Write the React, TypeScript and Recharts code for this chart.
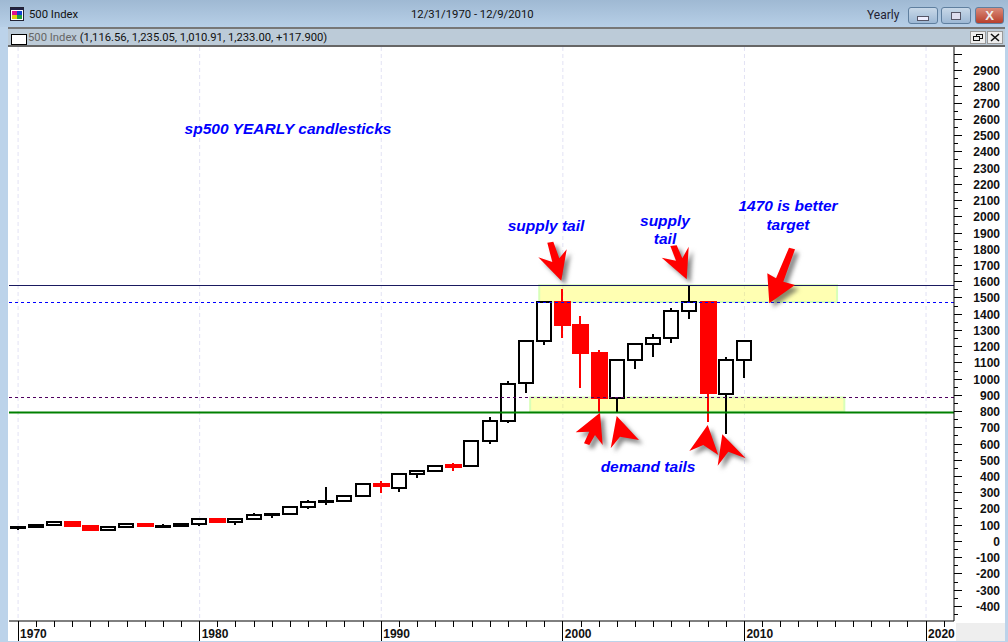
import {
  ComposedChart,
  Bar,
  XAxis,
  YAxis,
  CartesianGrid,
  ReferenceLine,
  ReferenceArea,
} from 'recharts';

const years = [
  1970, 1971, 1972, 1973, 1974, 1975, 1976, 1977, 1978, 1979,
  1980, 1981, 1982, 1983, 1984, 1985, 1986, 1987, 1988, 1989,
  1990, 1991, 1992, 1993, 1994, 1995, 1996, 1997, 1998, 1999,
  2000, 2001, 2002, 2003, 2004, 2005, 2006, 2007, 2008, 2009, 2010,
];
const opens = [
  92, 92, 102, 119, 97, 69, 90, 107, 95, 96,
  108, 136, 122, 141, 165, 167, 211, 242, 247, 278,
  353, 330, 417, 436, 470, 464, 616, 741, 975, 1234,
  1476, 1331, 1158, 885, 1117, 1215, 1252, 1421, 1474, 907, 1117,
];
const highs = [
  94, 105, 120, 120, 100, 96, 108, 108, 107, 111,
  142, 138, 143, 173, 171, 212, 254, 337, 283, 360,
  372, 418, 442, 471, 482, 622, 766, 988, 1239, 1476,
  1554, 1388, 1178, 1117, 1217, 1277, 1437, 1578, 1474, 1135, 1235,
];
const lows = [
  69, 90, 101, 92, 62, 68, 90, 90, 87, 96,
  98, 112, 102, 138, 147, 163, 203, 223, 243, 275,
  298, 306, 392, 429, 435, 458, 600, 731, 914, 1209,
  1254, 944, 800, 797, 1061, 1137, 1221, 1369, 737, 665, 1008,
];
const closes = [
  92, 102, 118, 98, 69, 90, 107, 95, 96, 108,
  136, 122, 141, 165, 167, 211, 242, 247, 278, 353,
  341, 417, 436, 466, 460, 616, 741, 970, 1236, 1476,
  1331, 1158, 885, 1117, 1215, 1252, 1421, 1474, 912, 1117, 1234,
];

const candleData = years.map((year, i) => ({
  year,
  open: opens[i],
  high: highs[i],
  low: lows[i],
  close: closes[i],
}));

const xTicks = Array.from({ length: 52 }, (_, i) => 1970 + i);
const decades = [1970, 1980, 1990, 2000, 2010, 2020];
const yTicks = Array.from({ length: 70 }, (_, i) => -450 + i * 50);

const RED = '#ff0000';

function Candle({ x, y, width, height, payload }: any) {
  const { open, high, low, close } = payload;
  const top = Math.min(y, y + height);
  const h = Math.abs(height);
  const yOf = (v: number) => Math.round(top + ((high - v) / (high - low)) * h);
  const up = close >= open;
  // the candles sit about a pixel left of the year gridline
  const cx = Math.round(x + width / 2) - 1;
  const bodyTop = yOf(Math.max(open, close));
  const bodyBottom = yOf(Math.min(open, close));
  const color = up ? '#000' : RED;
  return (
    <g>
      <line x1={cx} x2={cx} y1={Math.round(top)} y2={Math.round(top + h)} stroke={color} strokeWidth={2} />
      <rect
        x={cx - 7}
        y={bodyTop}
        width={up ? 14 : 15}
        height={Math.max(bodyBottom - bodyTop, 1)}
        fill={up ? '#fff' : RED}
        stroke={color}
        strokeWidth={2}
      />
    </g>
  );
}

function YearTick({ x, y, payload }: any) {
  const isDecade = payload.value % 10 === 0;
  return (
    <g>
      <line x1={x} x2={x} y1={y} y2={y + (isDecade ? 20 : 6)} stroke="#000" shapeRendering="crispEdges" />
      {isDecade && (
        <text x={x + 2} y={y + 17} fontFamily="Liberation Sans" fontWeight="bold" fontSize={12} fill="#111">
          {payload.value}
        </text>
      )}
    </g>
  );
}

function PriceTick({ x, y, payload }: any) {
  const isMajor = payload.value % 100 === 0;
  const showLabel = isMajor && payload.value <= 2900 && payload.value >= -400;
  return (
    <g>
      <line x1={x} x2={x + (isMajor ? 8 : 4)} y1={y} y2={y} stroke="#000" shapeRendering="crispEdges" />
      {showLabel && (
        <text x={1000} y={y + 4.5} textAnchor="end" fontFamily="Liberation Sans" fontWeight="bold" fontSize={12} fill="#111">
          {payload.value}
        </text>
      )}
    </g>
  );
}

const arrows = [
  '561.3,280.7 538.3,257.3 552.3,262 547.3,242.7 553.3,241.7 559.3,258.3 566.7,249.3',
  '686.7,279.3 661.7,257.7 676,260.7 670.3,246 676.7,245.3 682.3,258.3 688.7,246.7',
  '769.3,303.3 767.3,273.3 776,278.3 789,247.7 795,249.3 783.3,281.7 795,285',
  '600,412.7 575.7,432.3 589.3,431.7 584,443.3 589.3,445 595,435 602.7,445',
  '616.7,416 639,440 620,436.7 610.7,448.3',
  '707.7,425 689.3,451 703.3,445 718.3,455',
  '722.3,434.3 745.7,458.3 728.3,451.7 717.7,465.7',
];

const notes = [
  { text: 'sp500 YEARLY candlesticks', cx: 288, y: 120 },
  { text: 'supply tail', cx: 546, y: 217 },
  { text: 'supply', cx: 665, y: 212 },
  { text: 'tail', cx: 665, y: 230 },
  { text: '1470 is better', cx: 788, y: 197 },
  { text: 'target', cx: 788, y: 216 },
  { text: 'demand tails', cx: 648, y: 458 },
];

const chromeFont = 'Roboto, sans-serif';

function WinButton({ left, width, bg, children }: any) {
  return (
    <div
      style={{
        position: 'absolute', left, top: 7, width, height: 17, borderRadius: 3,
        border: '1px solid #5f7f9f', background: bg, boxSizing: 'border-box',
        display: 'flex', alignItems: 'center', justifyContent: 'center',
      }}
    >
      {children}
    </div>
  );
}

export default function App() {
  return (
    <div style={{ position: 'relative', width: 1008, height: 642, overflow: 'hidden', background: '#bcd3ea' }}>
      <style>{`body{margin:0}`}</style>

      {/* window title bar */}
      <div style={{ position: 'absolute', left: 0, top: 0, width: 1008, height: 27, background: 'linear-gradient(#9fb9d3,#b7cfe7)' }} />
      <svg style={{ position: 'absolute', left: 10, top: 7 }} width={14} height={14}>
        <rect x={0.5} y={0.5} width={13} height={13} fill="#fff" stroke="#223" />
        <rect x={1} y={1} width={12} height={2} fill="#224" />
        <rect x={2} y={4} width={5} height={4} fill="#e0108c" />
        <rect x={7} y={4} width={5} height={4} fill="#1040d0" />
        <rect x={2} y={8} width={5} height={4} fill="#e0d010" />
        <rect x={7} y={8} width={5} height={4} fill="#20a040" />
      </svg>
      <div style={{ position: 'absolute', left: 29, top: 8, font: `11.3px ${chromeFont}`, color: '#111' }}>500 Index</div>
      <div style={{ position: 'absolute', left: 411, top: 8, font: `11.3px ${chromeFont}`, color: '#111' }}>12/31/1970 - 12/9/2010</div>
      <div style={{ position: 'absolute', left: 867, top: 8, font: `12px ${chromeFont}`, color: '#223' }}>Yearly</div>
      <WinButton left={908} width={30} bg="linear-gradient(#c8d8e8,#9db8d4)">
        <div style={{ width: 10, height: 3, marginTop: 5, background: '#eef', border: '1px solid #556' }} />
      </WinButton>
      <WinButton left={941} width={30} bg="linear-gradient(#c8d8e8,#9db8d4)">
        <div style={{ width: 8, height: 6, background: '#dde', border: '1px solid #556' }} />
      </WinButton>
      <WinButton left={975} width={29} bg="linear-gradient(#d98a7a,#b8402c)">
        <span style={{ font: 'bold 13px "Liberation Sans"', color: '#eee' }}>X</span>
      </WinButton>

      {/* inner chart header */}
      <div style={{ position: 'absolute', left: 8, top: 27, width: 997, height: 20, boxSizing: 'border-box', background: '#bccbd8', borderTop: '2px solid #777', borderBottom: '2px solid #666' }} />
      <div style={{ position: 'absolute', left: 11, top: 34, width: 14, height: 9, background: '#fff', border: '1px solid #000' }} />
      <div style={{ position: 'absolute', left: 28, top: 31, font: `11.25px ${chromeFont}`, color: '#111', whiteSpace: 'nowrap' }}>
        <span style={{ color: '#666' }}>500 Index</span> (1,116.56, 1,235.05, 1,010.91, 1,233.00, +117.900)
      </div>
      <svg style={{ position: 'absolute', left: 970, top: 31 }} width={33} height={13}>
        <rect x={0.5} y={0.5} width={15} height={12} fill="#eee" stroke="#999" />
        <rect x={17.5} y={0.5} width={15} height={12} fill="#eee" stroke="#999" />
        <rect x={6.5} y={3.5} width={6} height={4} fill="none" stroke="#111" />
        <rect x={3.5} y={5.5} width={6} height={4} fill="#eee" stroke="#111" />
        <path d="M21 3 L29 10 M29 3 L21 10" stroke="#111" strokeWidth={1.6} />
      </svg>

      {/* chart pane */}
      <div style={{ position: 'absolute', left: 8, top: 47, width: 997, height: 594, background: '#fff' }} />
      <div style={{ position: 'absolute', left: 956, top: 623, width: 49, height: 18, background: '#eee' }} />

      <div style={{ position: 'absolute', left: 0, top: 0 }}>
        <ComposedChart
          width={1008}
          height={642}
          data={candleData}
          margin={{ top: 47, right: 0, bottom: 0, left: 9 }}
        >
          <CartesianGrid horizontal={false} verticalValues={decades} stroke="#e2e2f4" strokeDasharray="4 3" />
          <XAxis
            dataKey="year"
            type="number"
            domain={[1969.5, 2021.54]}
            ticks={xTicks}
            interval={0}
            height={21}
            tickSize={0}
            tickMargin={0}
            tick={<YearTick />}
            stroke="#000"
            allowDataOverflow
          />
          <YAxis
            orientation="right"
            type="number"
            domain={[-490, 3046]}
            ticks={yTicks}
            interval={0}
            width={54}
            tickSize={0}
            tickMargin={0}
            tick={<PriceTick />}
            stroke="#000"
            allowDataOverflow
          />
          <Bar
            dataKey={(d: any) => [d.low, d.high]}
            barSize={15}
            shape={<Candle />}
            isAnimationActive={false}
          />
          <ReferenceArea x1={1998.7} x2={2015.1} y1={1475} y2={1579} fill="#ffff00" fillOpacity={0.3} stroke="#d8ffb8" strokeWidth={2} />
          <ReferenceArea x1={1998.2} x2={2015.5} y1={800} y2={887} fill="#ffff00" fillOpacity={0.3} stroke="#d8ffb8" strokeWidth={2} />
          <ReferenceLine y={1579} stroke="#1a1a60" shapeRendering="crispEdges" />
          <ReferenceLine y={1472} stroke="#0000ff" strokeDasharray="3 3" shapeRendering="crispEdges" />
          <ReferenceLine y={887} stroke="#500060" strokeDasharray="3 3" shapeRendering="crispEdges" />
          <ReferenceLine y={795} stroke="#008000" strokeWidth={2} />
        </ComposedChart>
      </div>

      {/* hand drawn arrows and notes */}
      <svg style={{ position: 'absolute', left: 0, top: 0 }} width={1008} height={642}>
        {arrows.map((points) => (
          <polygon key={points} points={points} fill={RED} style={{ filter: 'drop-shadow(4px 4px 2px rgba(60,60,60,0.6))' }} />
        ))}
      </svg>
      {notes.map((n) => (
        <div
          key={n.text}
          style={{
            position: 'absolute', left: n.cx - 120, width: 240, top: n.y, textAlign: 'center',
            font: 'italic bold 15.5px "Liberation Sans"', color: '#0000ff', whiteSpace: 'nowrap',
          }}
        >
          {n.text}
        </div>
      ))}
    </div>
  );
}
